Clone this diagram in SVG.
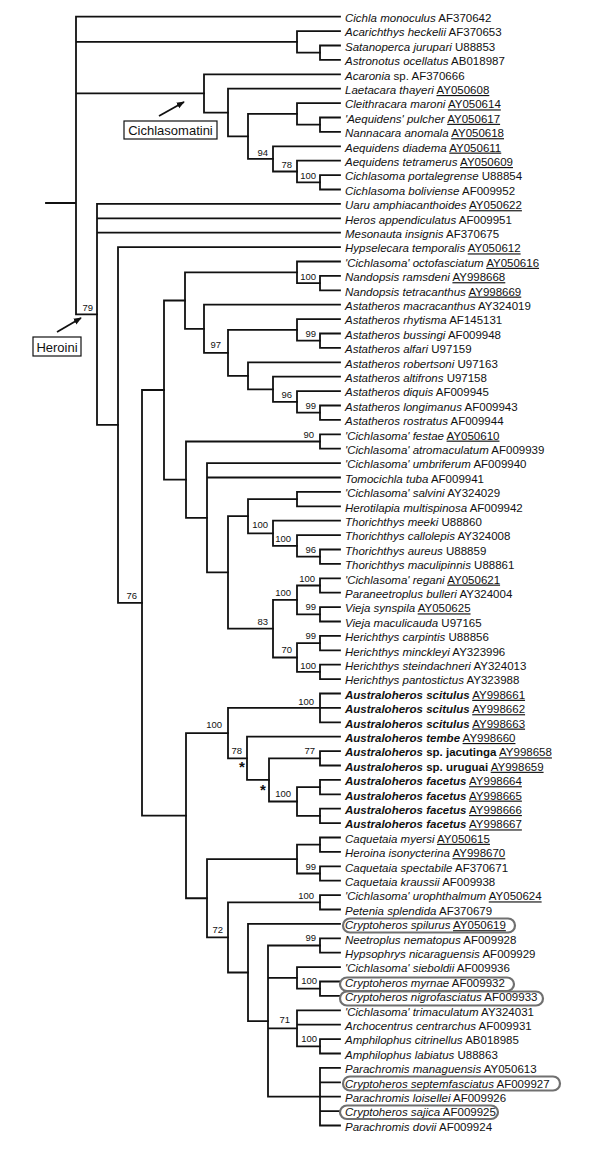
<svg xmlns="http://www.w3.org/2000/svg" width="600" height="1157" viewBox="0 0 600 1157">
<defs>
<style>
text{font-family:"Liberation Sans",Arial,Helvetica,sans-serif;fill:#111}
.lf{font-size:11.5px}
.i{font-style:italic}
.b{font-weight:bold}
.u{text-decoration:underline}
.s{font-size:9.5px;text-anchor:end}
.br{fill:none;stroke:#111;stroke-width:1.8;stroke-linecap:square;stroke-linejoin:miter}
.hl{fill:none;stroke:#707070;stroke-width:2.2}
.bx{fill:#fff;stroke:#111;stroke-width:1.2}
.ar{stroke:#111;stroke-width:1.8;fill:none}
.st{font-size:15px;font-weight:bold;text-anchor:middle}
</style>
<marker id="ah" viewBox="0 0 10 10" refX="9" refY="5" markerWidth="8" markerHeight="8" orient="auto" markerUnits="userSpaceOnUse"><path d="M0,1 L10,5 L0,9 z" fill="#111"/></marker>
</defs>
<rect width="600" height="1157" fill="#fff"/>
<g id="connectors" class="br">
<path d="M46 203 H76 M340 16.7 H76 V314.4 H97 M76 41.9 H297 M76 93.4 H204"/>
<path d="M340 31.1 H297 V52.7 H320"/>
<path d="M340 45.5 H320 V59.9 H340"/>
<path d="M340 74.3 H204 V112.55 H228"/>
<path d="M340 88.7 H228 V136.4 H248"/>
<path d="M297 113.9 H248 V158.9 H273"/>
<path d="M340 103.1 H297 V124.7 H320"/>
<path d="M340 117.5 H320 V131.9 H340"/>
<path d="M340 146.3 H273 V171.5 H297"/>
<path d="M340 160.7 H297 V182.3 H320"/>
<path d="M340 175.1 H320 V189.5 H340"/>
<path d="M340 203.9 H97 V424.95 H118 M97 218.3 H340 M97 232.7 H340"/>
<path d="M340 247.1 H118 V602.8 H142"/>
<path d="M164 390 H142 V815.7 H186"/>
<path d="M185 300.5 H164 V479.6 H186"/>
<path d="M297 272.3 H185 V328.8 H204"/>
<path d="M340 261.5 H297 V283.1 H320"/>
<path d="M340 275.9 H320 V290.3 H340"/>
<path d="M340 304.7 H204 V352.85 H228"/>
<path d="M297 329.9 H228 V375.8 H248"/>
<path d="M340 319.1 H297 V340.7 H320"/>
<path d="M340 333.5 H320 V347.9 H340"/>
<path d="M340 362.3 H248 V389.3 H273"/>
<path d="M340 376.7 H273 V401.9 H297"/>
<path d="M340 391.1 H297 V412.7 H320"/>
<path d="M340 405.5 H320 V419.9 H340"/>
<path d="M320 441.5 H186 V517.8 H207"/>
<path d="M340 434.3 H320 V448.7 H340"/>
<path d="M340 463.1 H207 V572.45 H228 M207 477.5 H340"/>
<path d="M248 516.2 H228 V628.7 H273"/>
<path d="M297 499.1 H248 V533.3 H273"/>
<path d="M340 491.9 H297 V506.3 H340"/>
<path d="M340 520.7 H273 V545.9 H297"/>
<path d="M340 535.1 H297 V556.7 H320"/>
<path d="M340 549.5 H320 V563.9 H340"/>
<path d="M297 599.9 H273 V657.5 H297"/>
<path d="M320 585.5 H297 V614.3 H320"/>
<path d="M340 578.3 H320 V592.7 H340"/>
<path d="M340 607.1 H320 V621.5 H340"/>
<path d="M320 643.1 H297 V671.9 H320"/>
<path d="M340 635.9 H320 V650.3 H340"/>
<path d="M340 664.7 H320 V679.1 H340"/>
<path d="M228 733.1 H186 V898.25 H207"/>
<path d="M320 707.9 H228 V758.3 H247"/>
<path d="M340 693.5 H320 V722.3 H340 M320 707.9 H340"/>
<path d="M340 736.7 H247 V779.9 H269"/>
<path d="M320 758.3 H269 V801.5 H297"/>
<path d="M340 751.1 H320 V765.5 H340"/>
<path d="M320 787.1 H297 V815.9 H320"/>
<path d="M340 779.9 H320 V794.3 H340"/>
<path d="M340 808.7 H320 V823.1 H340"/>
<path d="M297 859.1 H207 V937.4 H228"/>
<path d="M320 844.7 H297 V873.5 H320"/>
<path d="M340 837.5 H320 V851.9 H340"/>
<path d="M340 866.3 H320 V880.7 H340"/>
<path d="M320 902.3 H228 V972.5 H248"/>
<path d="M340 895.1 H320 V909.5 H340"/>
<path d="M340 923.9 H248 V1021.1 H268"/>
<path d="M320 945.5 H268 V1096.7 H320 M268 977.9 H297 M268 1028.3 H297"/>
<path d="M340 938.3 H320 V952.7 H340"/>
<path d="M340 967.1 H297 V988.7 H320"/>
<path d="M340 981.5 H320 V995.9 H340"/>
<path d="M340 1010.3 H297 V1046.3 H320 M297 1024.7 H340"/>
<path d="M340 1039.1 H320 V1053.5 H340"/>
<path d="M340 1067.9 H320 V1125.5 H340 M320 1082.3 H340 M320 1096.7 H340 M320 1111.1 H340"/>
</g>
<g id="support">
<text class="s" x="268" y="155.5">94</text>
<text class="s" x="292" y="168">78</text>
<text class="s" x="316" y="179">100</text>
<text class="s" x="93" y="310.5">79</text>
<text class="s" x="316" y="279.5">100</text>
<text class="s" x="221" y="347.5">97</text>
<text class="s" x="316" y="336.5">99</text>
<text class="s" x="292" y="397.5">96</text>
<text class="s" x="316" y="409">99</text>
<text class="s" x="314" y="438">90</text>
<text class="s" x="268" y="527.5">100</text>
<text class="s" x="291" y="541.5">100</text>
<text class="s" x="316" y="552.5">96</text>
<text class="s" x="137" y="598.5">76</text>
<text class="s" x="315" y="581.5">100</text>
<text class="s" x="291" y="595.5">100</text>
<text class="s" x="316" y="609.5">99</text>
<text class="s" x="268" y="624.5">83</text>
<text class="s" x="316" y="639">99</text>
<text class="s" x="292" y="652.5">70</text>
<text class="s" x="316" y="669">100</text>
<text class="s" x="314" y="705">100</text>
<text class="s" x="222" y="727.5">100</text>
<text class="s" x="242" y="754">78</text>
<text class="s" x="315" y="754">77</text>
<text class="s" x="291" y="797">100</text>
<text class="s" x="316" y="870">99</text>
<text class="s" x="314" y="899">100</text>
<text class="s" x="223" y="932.5">72</text>
<text class="s" x="316" y="941">99</text>
<text class="s" x="317" y="984">100</text>
<text class="s" x="290" y="1022.5">71</text>
<text class="s" x="317" y="1042">100</text>
<text class="st" x="242" y="772">*</text>
<text class="st" x="263" y="795">*</text>
</g>
<g id="clade-cichlasomatini">
<rect class="bx" x="124" y="121" width="93" height="18"/>
<text x="170.5" y="135" font-size="13" text-anchor="middle">Cichlasomatini</text>
<line class="ar" x1="159" y1="116" x2="184" y2="102" marker-end="url(#ah)"/>
</g>
<g id="clade-heroini">
<rect class="bx" x="33" y="337" width="48" height="19"/>
<text x="57" y="351.5" font-size="13" text-anchor="middle">Heroini</text>
<line class="ar" x1="57" y1="332" x2="81" y2="318" marker-end="url(#ah)"/>
</g>
<g id="leaves" class="lf">
<g id="leaf-00"><text x="345" y="22"><tspan class="i">Cichla monoculus</tspan> AF370642</text></g>
<g id="leaf-01"><text x="345" y="36.4"><tspan class="i">Acarichthys heckelii</tspan> AF370653</text></g>
<g id="leaf-02"><text x="345" y="50.8"><tspan class="i">Satanoperca jurupari</tspan> U88853</text></g>
<g id="leaf-03"><text x="345" y="65.2"><tspan class="i">Astronotus ocellatus</tspan> AB018987</text></g>
<g id="leaf-04"><text x="345" y="79.6"><tspan class="i">Acaronia</tspan> sp. AF370666</text></g>
<g id="leaf-05"><text x="345" y="94"><tspan class="i">Laetacara thayeri</tspan> <tspan class="u">AY050608</tspan></text></g>
<g id="leaf-06"><text x="345" y="108.4"><tspan class="i">Cleithracara maroni</tspan> <tspan class="u">AY050614</tspan></text></g>
<g id="leaf-07"><text x="345" y="122.8"><tspan class="i">'Aequidens' pulcher</tspan> <tspan class="u">AY050617</tspan></text></g>
<g id="leaf-08"><text x="345" y="137.2"><tspan class="i">Nannacara anomala</tspan> <tspan class="u">AY050618</tspan></text></g>
<g id="leaf-09"><text x="345" y="151.6"><tspan class="i">Aequidens diadema</tspan> <tspan class="u">AY050611</tspan></text></g>
<g id="leaf-10"><text x="345" y="166"><tspan class="i">Aequidens tetramerus</tspan> <tspan class="u">AY050609</tspan></text></g>
<g id="leaf-11"><text x="345" y="180.4"><tspan class="i">Cichlasoma portalegrense</tspan> U88854</text></g>
<g id="leaf-12"><text x="345" y="194.8"><tspan class="i">Cichlasoma boliviense</tspan> AF009952</text></g>
<g id="leaf-13"><text x="345" y="209.2"><tspan class="i">Uaru amphiacanthoides</tspan> <tspan class="u">AY050622</tspan></text></g>
<g id="leaf-14"><text x="345" y="223.6"><tspan class="i">Heros appendiculatus</tspan> AF009951</text></g>
<g id="leaf-15"><text x="345" y="238"><tspan class="i">Mesonauta insignis</tspan> AF370675</text></g>
<g id="leaf-16"><text x="345" y="252.4"><tspan class="i">Hypselecara temporalis</tspan> <tspan class="u">AY050612</tspan></text></g>
<g id="leaf-17"><text x="345" y="266.8"><tspan class="i">'Cichlasoma' octofasciatum</tspan> <tspan class="u">AY050616</tspan></text></g>
<g id="leaf-18"><text x="345" y="281.2"><tspan class="i">Nandopsis ramsdeni</tspan> <tspan class="u">AY998668</tspan></text></g>
<g id="leaf-19"><text x="345" y="295.6"><tspan class="i">Nandopsis tetracanthus</tspan> <tspan class="u">AY998669</tspan></text></g>
<g id="leaf-20"><text x="345" y="310"><tspan class="i">Astatheros macracanthus</tspan> AY324019</text></g>
<g id="leaf-21"><text x="345" y="324.4"><tspan class="i">Astatheros rhytisma</tspan> AF145131</text></g>
<g id="leaf-22"><text x="345" y="338.8"><tspan class="i">Astatheros bussingi</tspan> AF009948</text></g>
<g id="leaf-23"><text x="345" y="353.2"><tspan class="i">Astatheros alfari</tspan> U97159</text></g>
<g id="leaf-24"><text x="345" y="367.6"><tspan class="i">Astatheros robertsoni</tspan> U97163</text></g>
<g id="leaf-25"><text x="345" y="382"><tspan class="i">Astatheros altifrons</tspan> U97158</text></g>
<g id="leaf-26"><text x="345" y="396.4"><tspan class="i">Astatheros diquis</tspan> AF009945</text></g>
<g id="leaf-27"><text x="345" y="410.8"><tspan class="i">Astatheros longimanus</tspan> AF009943</text></g>
<g id="leaf-28"><text x="345" y="425.2"><tspan class="i">Astatheros rostratus</tspan> AF009944</text></g>
<g id="leaf-29"><text x="345" y="439.6"><tspan class="i">'Cichlasoma' festae</tspan> <tspan class="u">AY050610</tspan></text></g>
<g id="leaf-30"><text x="345" y="454"><tspan class="i">'Cichlasoma' atromaculatum</tspan> AF009939</text></g>
<g id="leaf-31"><text x="345" y="468.4"><tspan class="i">'Cichlasoma' umbriferum</tspan> AF009940</text></g>
<g id="leaf-32"><text x="345" y="482.8"><tspan class="i">Tomocichla tuba</tspan> AF009941</text></g>
<g id="leaf-33"><text x="345" y="497.2"><tspan class="i">'Cichlasoma' salvini</tspan> AY324029</text></g>
<g id="leaf-34"><text x="345" y="511.6"><tspan class="i">Herotilapia multispinosa</tspan> AF009942</text></g>
<g id="leaf-35"><text x="345" y="526"><tspan class="i">Thorichthys meeki</tspan> U88860</text></g>
<g id="leaf-36"><text x="345" y="540.4"><tspan class="i">Thorichthys callolepis</tspan> AY324008</text></g>
<g id="leaf-37"><text x="345" y="554.8"><tspan class="i">Thorichthys aureus</tspan> U88859</text></g>
<g id="leaf-38"><text x="345" y="569.2"><tspan class="i">Thorichthys maculipinnis</tspan> U88861</text></g>
<g id="leaf-39"><text x="345" y="583.6"><tspan class="i">'Cichlasoma' regani</tspan> <tspan class="u">AY050621</tspan></text></g>
<g id="leaf-40"><text x="345" y="598"><tspan class="i">Paraneetroplus bulleri</tspan> AY324004</text></g>
<g id="leaf-41"><text x="345" y="612.4"><tspan class="i">Vieja synspila</tspan> <tspan class="u">AY050625</tspan></text></g>
<g id="leaf-42"><text x="345" y="626.8"><tspan class="i">Vieja maculicauda</tspan> U97165</text></g>
<g id="leaf-43"><text x="345" y="641.2"><tspan class="i">Herichthys carpintis</tspan> U88856</text></g>
<g id="leaf-44"><text x="345" y="655.6"><tspan class="i">Herichthys minckleyi</tspan> AY323996</text></g>
<g id="leaf-45"><text x="345" y="670"><tspan class="i">Herichthys steindachneri</tspan> AY324013</text></g>
<g id="leaf-46"><text x="345" y="684.4"><tspan class="i">Herichthys pantostictus</tspan> AY323988</text></g>
<g id="leaf-47"><text x="345" y="698.8"><tspan class="i b">Australoheros scitulus</tspan> <tspan class="u">AY998661</tspan></text></g>
<g id="leaf-48"><text x="345" y="713.2"><tspan class="i b">Australoheros scitulus</tspan> <tspan class="u">AY998662</tspan></text></g>
<g id="leaf-49"><text x="345" y="727.6"><tspan class="i b">Australoheros scitulus</tspan> <tspan class="u">AY998663</tspan></text></g>
<g id="leaf-50"><text x="345" y="742"><tspan class="i b">Australoheros tembe</tspan> <tspan class="u">AY998660</tspan></text></g>
<g id="leaf-51"><text x="345" y="756.4"><tspan class="i b">Australoheros</tspan><tspan class="b"> sp. jacutinga</tspan> <tspan class="u">AY998658</tspan></text></g>
<g id="leaf-52"><text x="345" y="770.8"><tspan class="i b">Australoheros</tspan><tspan class="b"> sp. uruguai</tspan> <tspan class="u">AY998659</tspan></text></g>
<g id="leaf-53"><text x="345" y="785.2"><tspan class="i b">Australoheros facetus</tspan> <tspan class="u">AY998664</tspan></text></g>
<g id="leaf-54"><text x="345" y="799.6"><tspan class="i b">Australoheros facetus</tspan> <tspan class="u">AY998665</tspan></text></g>
<g id="leaf-55"><text x="345" y="814"><tspan class="i b">Australoheros facetus</tspan> <tspan class="u">AY998666</tspan></text></g>
<g id="leaf-56"><text x="345" y="828.4"><tspan class="i b">Australoheros facetus</tspan> <tspan class="u">AY998667</tspan></text></g>
<g id="leaf-57"><text x="345" y="842.8"><tspan class="i">Caquetaia myersi</tspan> <tspan class="u">AY050615</tspan></text></g>
<g id="leaf-58"><text x="345" y="857.2"><tspan class="i">Heroina isonycterina</tspan> <tspan class="u">AY998670</tspan></text></g>
<g id="leaf-59"><text x="345" y="871.6"><tspan class="i">Caquetaia spectabile</tspan> AF370671</text></g>
<g id="leaf-60"><text x="345" y="886"><tspan class="i">Caquetaia kraussii</tspan> AF009938</text></g>
<g id="leaf-61"><text x="345" y="900.4"><tspan class="i">'Cichlasoma' urophthalmum</tspan> <tspan class="u">AY050624</tspan></text></g>
<g id="leaf-62"><text x="345" y="914.8"><tspan class="i">Petenia splendida</tspan> AF370679</text></g>
<g id="leaf-63"><text x="345" y="929.2"><tspan class="i">Cryptoheros spilurus</tspan> <tspan class="u">AY050619</tspan></text></g>
<g id="leaf-64"><text x="345" y="943.6"><tspan class="i">Neetroplus nematopus</tspan> AF009928</text></g>
<g id="leaf-65"><text x="345" y="958"><tspan class="i">Hypsophrys nicaraguensis</tspan> AF009929</text></g>
<g id="leaf-66"><text x="345" y="972.4"><tspan class="i">'Cichlasoma' sieboldii</tspan> AF009936</text></g>
<g id="leaf-67"><text x="345" y="986.8"><tspan class="i">Cryptoheros myrnae</tspan> AF009932</text></g>
<g id="leaf-68"><text x="345" y="1001.2"><tspan class="i">Cryptoheros nigrofasciatus</tspan> AF009933</text></g>
<g id="leaf-69"><text x="345" y="1015.6"><tspan class="i">'Cichlasoma' trimaculatum</tspan> AY324031</text></g>
<g id="leaf-70"><text x="345" y="1030"><tspan class="i">Archocentrus centrarchus</tspan> AF009931</text></g>
<g id="leaf-71"><text x="345" y="1044.4"><tspan class="i">Amphilophus citrinellus</tspan> AB018985</text></g>
<g id="leaf-72"><text x="345" y="1058.8"><tspan class="i">Amphilophus labiatus</tspan> U88863</text></g>
<g id="leaf-73"><text x="345" y="1073.2"><tspan class="i">Parachromis managuensis</tspan> AY050613</text></g>
<g id="leaf-74"><text x="345" y="1087.6"><tspan class="i">Cryptoheros septemfasciatus</tspan> AF009927</text></g>
<g id="leaf-75"><text x="345" y="1102"><tspan class="i">Parachromis loisellei</tspan> AF009926</text></g>
<g id="leaf-76"><text x="345" y="1116.4"><tspan class="i">Cryptoheros sajica</tspan> AF009925</text></g>
<g id="leaf-77"><text x="345" y="1130.8"><tspan class="i">Parachromis dovii</tspan> AF009924</text></g>
</g>
<g id="highlights" class="hl">
<rect x="343" y="918.5" width="172" height="14" rx="7"/>
<rect x="340" y="977.5" width="174" height="13.5" rx="7"/>
<rect x="340" y="991.5" width="203" height="14" rx="7"/>
<rect x="343" y="1076.5" width="217" height="14" rx="7"/>
<rect x="340" y="1105.5" width="158" height="13.5" rx="7"/>
</g>
</svg>
